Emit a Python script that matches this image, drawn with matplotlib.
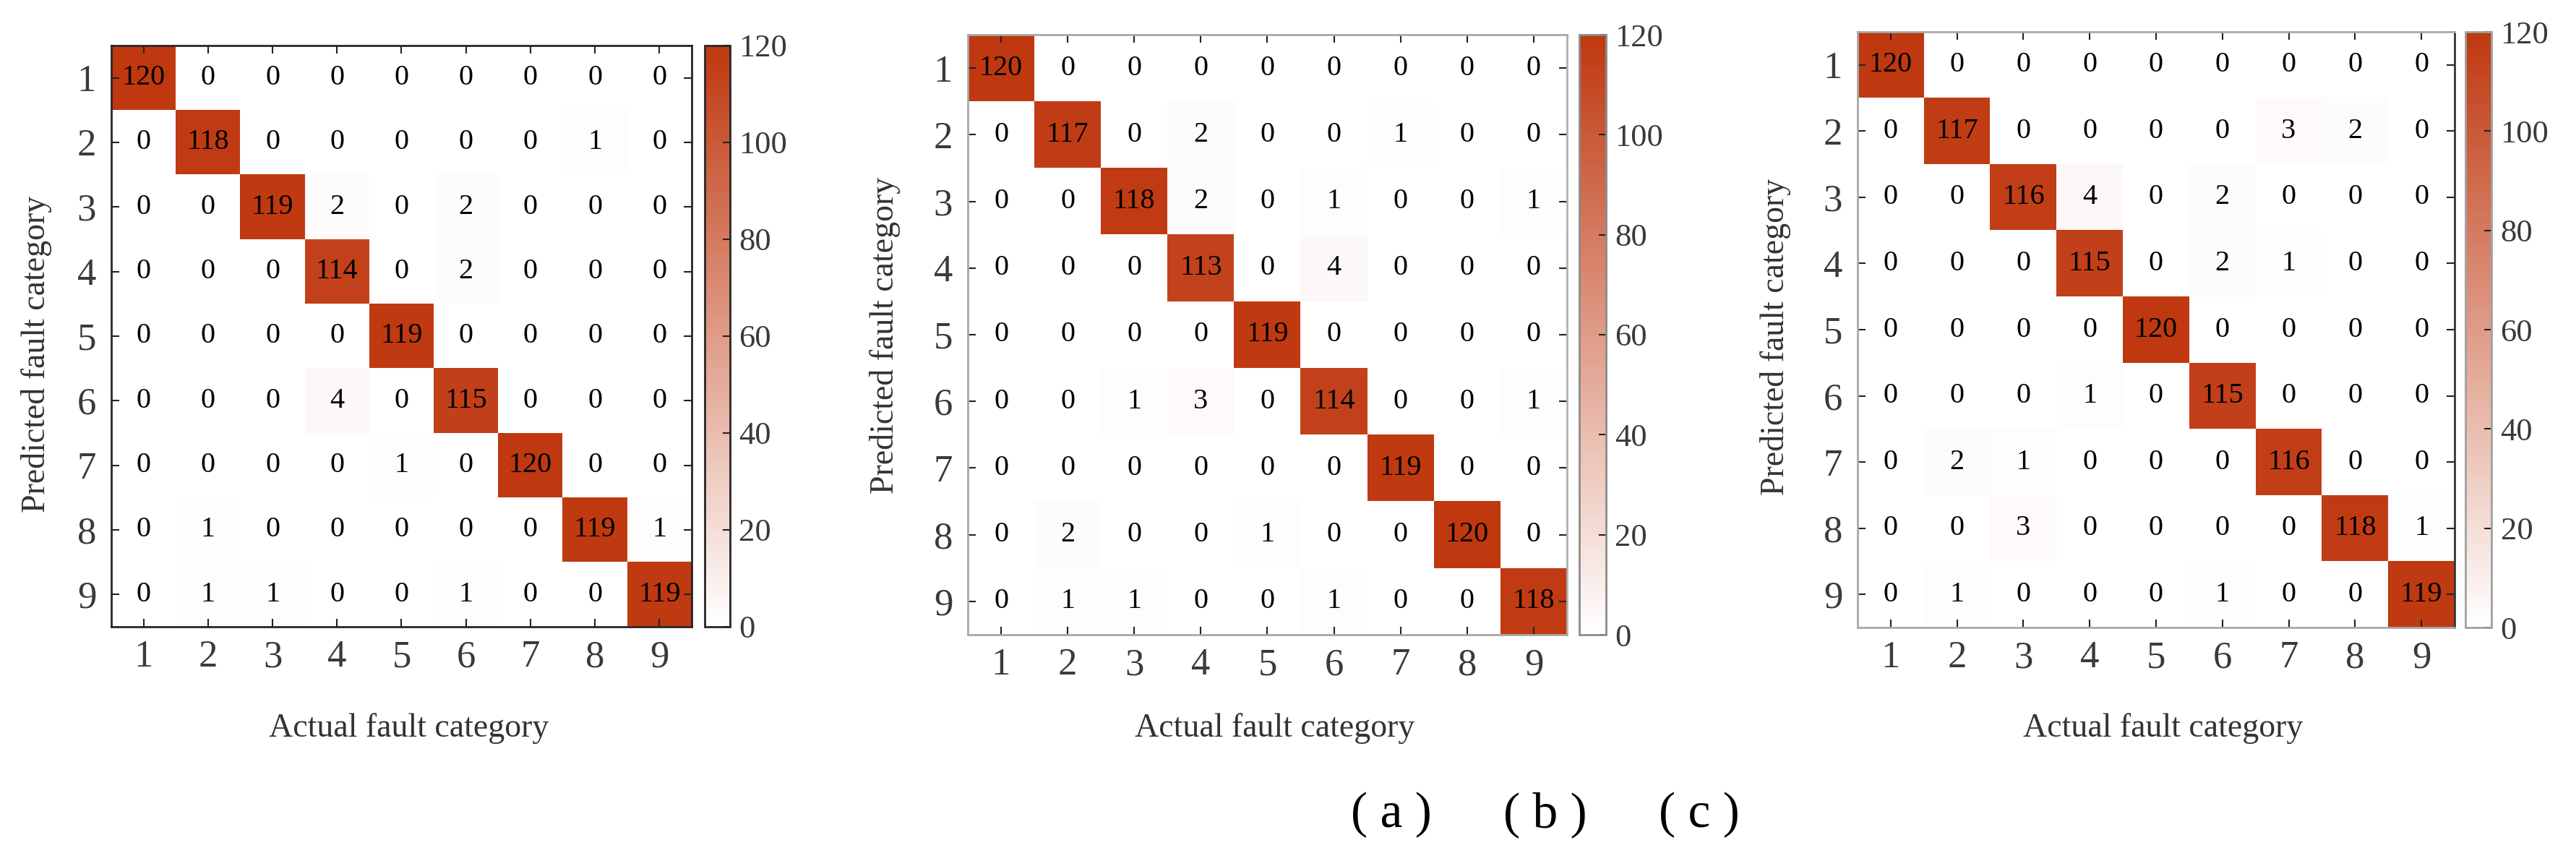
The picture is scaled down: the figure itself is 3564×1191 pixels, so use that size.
import numpy as np
import matplotlib
matplotlib.use("Agg")
import matplotlib.pyplot as plt
from matplotlib.colors import LinearSegmentedColormap

plt.rcParams['font.family'] = ['Liberation Serif', 'DejaVu Serif']

categories = [1, 2, 3, 4, 5, 6, 7, 8, 9]
cbar_ticks = [0, 20, 40, 60, 80, 100, 120]

cm_a = [
    [120, 0, 0, 0, 0, 0, 0, 0, 0],
    [0, 118, 0, 0, 0, 0, 0, 1, 0],
    [0, 0, 119, 2, 0, 2, 0, 0, 0],
    [0, 0, 0, 114, 0, 2, 0, 0, 0],
    [0, 0, 0, 0, 119, 0, 0, 0, 0],
    [0, 0, 0, 4, 0, 115, 0, 0, 0],
    [0, 0, 0, 0, 1, 0, 120, 0, 0],
    [0, 1, 0, 0, 0, 0, 0, 119, 1],
    [0, 1, 1, 0, 0, 1, 0, 0, 119],
]
cm_b = [
    [120, 0, 0, 0, 0, 0, 0, 0, 0],
    [0, 117, 0, 2, 0, 0, 1, 0, 0],
    [0, 0, 118, 2, 0, 1, 0, 0, 1],
    [0, 0, 0, 113, 0, 4, 0, 0, 0],
    [0, 0, 0, 0, 119, 0, 0, 0, 0],
    [0, 0, 1, 3, 0, 114, 0, 0, 1],
    [0, 0, 0, 0, 0, 0, 119, 0, 0],
    [0, 2, 0, 0, 1, 0, 0, 120, 0],
    [0, 1, 1, 0, 0, 1, 0, 0, 118],
]
cm_c = [
    [120, 0, 0, 0, 0, 0, 0, 0, 0],
    [0, 117, 0, 0, 0, 0, 3, 2, 0],
    [0, 0, 116, 4, 0, 2, 0, 0, 0],
    [0, 0, 0, 115, 0, 2, 1, 0, 0],
    [0, 0, 0, 0, 120, 0, 0, 0, 0],
    [0, 0, 0, 1, 0, 115, 0, 0, 0],
    [0, 2, 1, 0, 0, 0, 116, 0, 0],
    [0, 0, 3, 0, 0, 0, 0, 118, 1],
    [0, 1, 0, 0, 0, 1, 0, 0, 119],
]
captions = ["( a )", "( b )", "( c )"]
xlabel_text = "Actual fault category"
ylabel_text = "Predicted fault category"

W, H = 3564, 1191
fig = plt.figure(figsize=(W / 100, H / 100), dpi=100)

cmap = LinearSegmentedColormap.from_list("wr", ["#FFFFFF", "#BF3810"])

def fx(px):
    return px / W

def fy(py):
    return 1 - py / H

panels = [
    dict(cm=cm_a, box=(154, 957, 63, 867), cb=(975, 1010), ylab=(51, 490),
         frame="#262626", frame_right="#262626", cbleft="#262626"),
    dict(cm=cm_b, box=(1339, 2168, 48, 878), cb=(2185, 2222), ylab=(1225, 464),
         frame="#a8a8a8", frame_right="#b0b0b0", cbleft="#8a8a8a"),
    dict(cm=cm_c, box=(2570, 3396, 44, 868), cb=(3411, 3447), ylab=(2456, 466),
         frame="#a8a8a8", frame_right="#333333", cbleft="#a0a0a0"),
]

for p in panels:
    l, r, t, b = p["box"]
    ax = fig.add_axes([fx(l), fy(b), fx(r - l), (b - t) / H])
    data = np.array(p["cm"])
    im = ax.imshow(data, cmap=cmap, vmin=0, vmax=120, aspect="auto",
                   interpolation="nearest",
                   extent=(0.5, 9.5, 9.5, 0.5))
    ax.set_xlim(0.5, 9.5)
    ax.set_ylim(9.5, 0.5)
    ax.set_xticks(categories)
    ax.set_yticks(categories)
    ax.set_xticklabels([str(c) for c in categories])
    ax.set_yticklabels([str(c) for c in categories])
    ax.tick_params(axis="both", direction="in", length=8, width=1.5,
                   top=True, right=True, labelsize=38, colors="#222222",
                   labelcolor="#3a3a3a")
    ax.tick_params(axis="x", pad=13)
    ax.tick_params(axis="y", pad=15)
    for s in ["left", "top", "bottom"]:
        ax.spines[s].set_color(p["frame"])
        ax.spines[s].set_linewidth(2)
    ax.spines["right"].set_color(p["frame_right"])
    ax.spines["right"].set_linewidth(2)

    for i in range(9):
        for j in range(9):
            ax.text(categories[j], categories[i], str(data[i, j]),
                    ha="center", va="center", fontsize=29, color="black")

    c0, c1 = p["cb"]
    cax = fig.add_axes([fx(c0), fy(b), fx(c1 - c0), (b - t) / H])
    cb = fig.colorbar(im, cax=cax, ticks=cbar_ticks)
    cb.outline.set_edgecolor(p["cbleft"])
    cb.outline.set_linewidth(2)
    cb.ax.tick_params(direction="in", length=7, width=1.5, right=True,
                      left=False, labelsize=32, pad=9, colors="#222222",
                      labelcolor="#3a3a3a")

    fig.text(fx((l + r) / 2 + 10), fy(1008), xlabel_text, ha="center",
             va="center", fontsize=33, color="#333333")
    yx, yy = p["ylab"]
    fig.text(fx(yx), fy(yy), ylabel_text, ha="center", va="center",
             rotation=90, fontsize=33, color="#333333")

cap_x = [1925, 2138, 2351]
for cx, cap in zip(cap_x, captions):
    fig.text(fx(cx), fy(1127), cap, ha="center", va="center", fontsize=50,
             color="black", family="Liberation Serif")

fig.savefig("out.png", dpi=100, facecolor="white")
